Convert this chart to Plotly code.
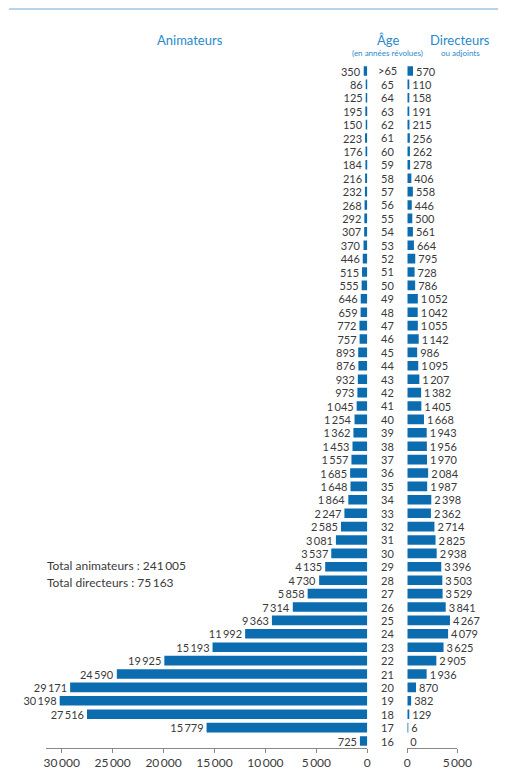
import plotly.graph_objects as go

ages = [">65", "65", "64", "63", "62", "61", "60", "59", "58", "57", "56", "55", "54", "53", "52", "51",
        "50", "49", "48", "47", "46", "45", "44", "43", "42", "41", "40", "39", "38", "37", "36", "35",
        "34", "33", "32", "31", "30", "29", "28", "27", "26", "25", "24", "23", "22", "21", "20", "19",
        "18", "17", "16"]
animateurs = [350, 86, 125, 195, 150, 223, 176, 184, 216, 232, 268, 292, 307, 370, 446, 515,
              555, 646, 659, 772, 757, 893, 876, 932, 973, 1045, 1254, 1362, 1453, 1557, 1685, 1648,
              1864, 2247, 2585, 3081, 3537, 4135, 4730, 5858, 7314, 9363, 11992, 15193, 19925, 24590, 29171, 30198,
              27516, 15779, 725]
directeurs = [570, 110, 158, 191, 215, 256, 262, 278, 406, 558, 446, 500, 561, 664, 795, 728,
              786, 1052, 1042, 1055, 1142, 986, 1095, 1207, 1382, 1405, 1668, 1943, 1956, 1970, 2084, 1987,
              2398, 2362, 2714, 2825, 2938, 3396, 3503, 3529, 3841, 4267, 4079, 3625, 2905, 1936, 870, 382,
              129, 6, 0]
left_ticks = [0, 5000, 10000, 15000, 20000, 25000, 30000]
right_ticks = [0, 5000]

W, H = 511, 782
BLUE = "#0b6db0"
HEAD = "#2a8acb"
TXT = "#3a3a3a"
FONT = "Lato"
LBL = 11


def fmt(v):
    s = f"{v:,}"
    return s.replace(",", "\u2009")


n = len(ages)
ypos = [n - 1 - i for i in range(n)]  # >65 at top

fig = go.Figure()
fig.add_trace(go.Bar(
    x=animateurs, y=ypos, orientation="h", xaxis="x", yaxis="y",
    marker=dict(color=BLUE, line=dict(width=0)), width=0.72,
    text=[fmt(v) for v in animateurs], textposition="outside", constraintext="none",
    textfont=dict(family=FONT, size=LBL, color=TXT), cliponaxis=False, showlegend=False,
))
fig.add_trace(go.Bar(
    x=directeurs, y=ypos, orientation="h", xaxis="x2", yaxis="y",
    marker=dict(color=BLUE, line=dict(width=0)), width=0.72,
    text=[fmt(v) for v in directeurs], textposition="outside", constraintext="none",
    textfont=dict(family=FONT, size=LBL, color=TXT), cliponaxis=False, showlegend=False,
))

xl0, xl1 = 45.7, 367.3
xr0, xr1 = 407.3, 457.3
ybot_px, ytop_px = 747.7, 64.3
left_range_max = (xl1 - xl0) / (305.6 / 30000)

fig.update_layout(
    width=W, height=H, autosize=False, margin=dict(l=0, r=0, t=0, b=0, autoexpand=False),
    paper_bgcolor="white", plot_bgcolor="white",
    font=dict(family=FONT, color=TXT),
    bargap=0.28,
    xaxis=dict(domain=[xl0 / W, xl1 / W], range=[left_range_max, 0], showgrid=False, zeroline=False,
               showline=True, linecolor="#888", linewidth=1, ticks="outside", ticklen=4, tickcolor="#888",
               tickvals=left_ticks, ticktext=[fmt(v) for v in left_ticks], automargin=False,
               tickfont=dict(family=FONT, size=12, color=TXT), anchor="y"),
    xaxis2=dict(domain=[xr0 / W, xr1 / W], range=[0, 5000], showgrid=False, zeroline=False,
                showline=True, linecolor="#888", linewidth=1, ticks="outside", ticklen=4, tickcolor="#888",
                tickvals=right_ticks, ticktext=[fmt(v) for v in right_ticks], automargin=False,
                tickfont=dict(family=FONT, size=12, color=TXT), anchor="y"),
    yaxis=dict(domain=[(H - ybot_px) / H, (H - ytop_px) / H], range=[-0.5, n - 0.5], automargin=False,
               showgrid=False, zeroline=False, showticklabels=False, showline=False),
)

anns = []
for a, yv in zip(ages, ypos):
    anns.append(dict(x=387.5 / W, xref="paper", y=yv, yref="y", text=a, showarrow=False,
                     xanchor="center", yanchor="middle", font=dict(family=FONT, size=LBL, color=TXT)))

anns += [
    dict(x=190 / W, y=1 - 40 / H, xref="paper", yref="paper", text="Animateurs", showarrow=False,
         xanchor="center", yanchor="middle", font=dict(family=FONT, size=13, color=HEAD)),
    dict(x=387.5 / W, y=1 - 40 / H, xref="paper", yref="paper", text="Âge", showarrow=False,
         xanchor="center", yanchor="middle", font=dict(family=FONT, size=13, color=HEAD)),
    dict(x=387.5 / W, y=1 - 52.5 / H, xref="paper", yref="paper", text="(en années révolues)", showarrow=False,
         xanchor="center", yanchor="middle", font=dict(family=FONT, size=8, color=HEAD)),
    dict(x=460 / W, y=1 - 40 / H, xref="paper", yref="paper", text="Directeurs", showarrow=False,
         xanchor="center", yanchor="middle", font=dict(family=FONT, size=13, color=HEAD)),
    dict(x=460 / W, y=1 - 52.5 / H, xref="paper", yref="paper", text="ou adjoints", showarrow=False,
         xanchor="center", yanchor="middle", font=dict(family=FONT, size=8, color=HEAD)),
    dict(x=45 / W, y=1 - 565 / H, xref="paper", yref="paper", text="Total animateurs : 241\u2009005",
         showarrow=False, xanchor="left", yanchor="middle", font=dict(family=FONT, size=12, color=TXT)),
    dict(x=45 / W, y=1 - 582 / H, xref="paper", yref="paper", text="Total directeurs : 75\u2009163",
         showarrow=False, xanchor="left", yanchor="middle", font=dict(family=FONT, size=12, color=TXT)),
]
fig.update_layout(annotations=anns)

fig.add_shape(type="line", xref="paper", yref="paper", x0=9 / W, x1=498 / W, y0=1 - 9 / H, y1=1 - 9 / H,
              line=dict(color="#6aaad6", width=1))

fig.write_html("out.html", config={"responsive": False})
